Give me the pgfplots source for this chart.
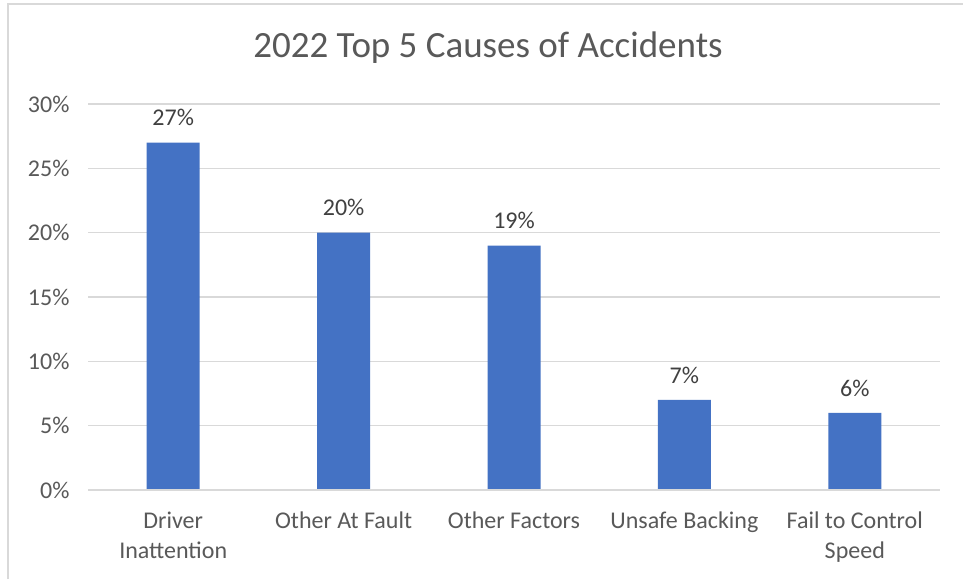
\documentclass[border=0pt]{standalone}
\usepackage{fontspec}
\setmainfont{Carlito}
\usepackage{pgfplots}
\pgfplotsset{compat=1.18}
\definecolor{barBlue}{HTML}{4472C4}
\definecolor{gridGray}{HTML}{D9D9D9}
\definecolor{txtGray}{HTML}{595959}
\definecolor{lblGray}{HTML}{404040}

\begin{document}
\begin{tikzpicture}[x=1pt,y=1pt]
\useasboundingbox (0,0) rectangle (963,579);
\fill[white] (0,0) rectangle (963,579);
% chart frame
\draw[gridGray, line width=2pt] (8,0) -- (8,575) -- (963,575);
% title
\node[font=\fontsize{37}{40}\selectfont, text=txtGray] at (488,531) {2022 Top 5 Causes of Accidents};
\begin{axis}[
    at={(88pt,89pt)}, anchor=south west,
    scale only axis,
    width=852pt, height=386pt,
    ymin=0, ymax=30,
    xmin=-0.5, xmax=4.5,
    ytick={0,5,...,30},
    yticklabel={\pgfmathprintnumber{\tick}\%},
    /pgf/number format/assume math mode=true,
    xtick=data,
    xticklabels={{Driver\\Inattention},{Other At Fault},{Other Factors},{Unsafe Backing},{Fail to Control\\Speed}},
    x tick label style={align=center, font=\fontsize{24}{30}\selectfont, text=txtGray, anchor=north, yshift=-18pt},
    y tick label style={font=\fontsize{24}{28}\selectfont, text=txtGray, xshift=-15pt},
    axis line style={draw=none},
    axis x line*=bottom,
    major tick length=0pt,
    ymajorgrids,
    grid style={gridGray, line width=1.5pt},
    ybar, bar width=53pt,
    nodes near coords={\pgfmathprintnumber{\pgfplotspointmeta}\%},
    every node near coord/.append style={font=\fontsize{24}{28}\selectfont, text=lblGray, yshift=13pt},
    clip=false,
]
\addplot[fill=barBlue, draw=none] coordinates {
    (0,27) (1,20) (2,19) (3,7) (4,6)
};
\draw[gridGray, line width=1.5pt] (axis cs:-0.5,0) -- (axis cs:4.5,0);
\end{axis}
\end{tikzpicture}
\end{document}
